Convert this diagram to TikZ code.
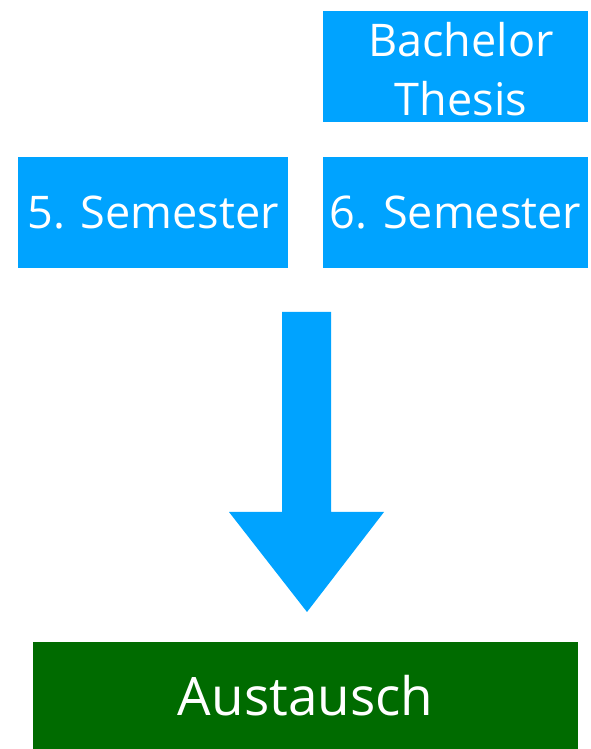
\documentclass[tikz,border=0pt]{standalone}
\usepackage{fontspec}
\setmainfont{Open Sans}
\definecolor{boxblue}{RGB}{0,163,255}
\definecolor{boxgreen}{RGB}{0,107,0}
\begin{document}
\begin{tikzpicture}[x=1pt,y=1pt,
  bluebox/.style={fill=boxblue,draw=none,inner sep=0pt,minimum width=265pt,minimum height=111pt,text=white,align=center,font=\fontsize{45}{59}\selectfont},
  greenbox/.style={fill=boxgreen,draw=none,inner sep=0pt,minimum width=545pt,minimum height=107pt,text=white,font=\fontsize{53}{60}\selectfont}]
\useasboundingbox (0,0) rectangle (590,749);
\fill[boxblue] (323,627) rectangle (588,738);
\node[bluebox,fill=none,minimum width=280pt] (thesis) at (461,680) {Bachelor\\Thesis};
\node[bluebox,minimum width=270pt] (sem5) at (153,536.5) {5. Semester};
\node[bluebox] (sem6) at (455.5,536.5) {\raisebox{-3pt}{6. Semester}};
\node[greenbox] (aus) at (305.5,53.5) {Austausch};
\coordinate (stl) at (282,437);
\coordinate (str) at (331,437);
\coordinate (sbl) at (282,237);
\coordinate (sbr) at (331,237);
\coordinate (hl) at (229,237);
\coordinate (hr) at (384,237);
\coordinate (tip) at (307,137);
\fill[boxblue] (stl) -- (str) -- (sbr) -- (hr) -- (tip) -- (hl) -- (sbl) -- cycle;
\end{tikzpicture}
\end{document}
